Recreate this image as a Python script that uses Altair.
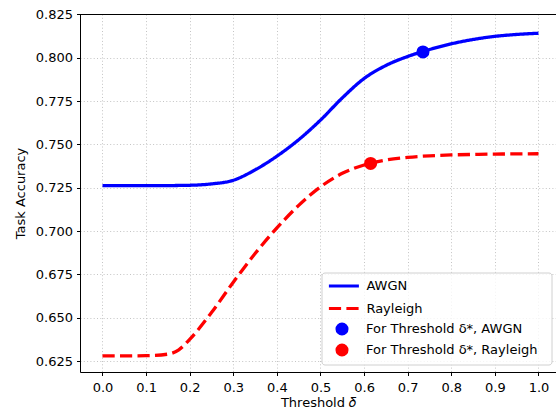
import altair as alt
import pandas as pd

# Threshold values (x) and task accuracy for each channel
thresholds = [0.0, 0.05, 0.1, 0.15, 0.175, 0.2, 0.25, 0.3, 0.35, 0.4, 0.45, 0.5,
              0.55, 0.6, 0.65, 0.7, 0.75, 0.8, 0.85, 0.9, 0.95, 1.0]
awgn_acc = [0.7262, 0.7262, 0.7262, 0.7262, 0.7263, 0.7264, 0.7272, 0.7293, 0.7353,
            0.7432, 0.7527, 0.7640, 0.7768, 0.7880, 0.7955, 0.8007, 0.8047, 0.8080,
            0.8105, 0.8123, 0.8134, 0.8141]
rayleigh_acc = [0.6280, 0.6280, 0.6281, 0.6290, 0.6315, 0.6375, 0.6530, 0.6705, 0.6870,
                0.7018, 0.7148, 0.7255, 0.7333, 0.7381, 0.7410, 0.7425, 0.7434, 0.7439,
                0.7442, 0.7444, 0.7445, 0.7446]

# Optimal threshold markers
marker_labels = ["For Threshold \u03b4*, AWGN", "For Threshold \u03b4*, Rayleigh"]
marker_x = [0.735, 0.615]
marker_y = [0.8033, 0.7390]

series_names = ["AWGN", "Rayleigh"]
series_colors = ["#0000ff", "#ff0000"]
x_ticks = [round(i * 0.1, 1) for i in range(11)]
y_ticks = [0.625, 0.65, 0.675, 0.7, 0.725, 0.75, 0.775, 0.8, 0.825]

lines_df = pd.DataFrame({
    "threshold": thresholds * 2,
    "accuracy": awgn_acc + rayleigh_acc,
    "series": ["AWGN"] * len(thresholds) + ["Rayleigh"] * len(thresholds),
})
points_df = pd.DataFrame({"threshold": marker_x, "accuracy": marker_y, "marker": marker_labels})
one_row = pd.DataFrame({"k": [0]})

W, H = 476, 358
x_scale = alt.Scale(domain=[-0.0516, 1.0402], nice=False, zero=False)
y_scale = alt.Scale(domain=[0.6187, 0.8252], nice=False, zero=False)

leg_common = dict(title=None, orient="none", padding=0, labelLimit=400,
                  labelFont="DejaVu Sans", labelFontSize=13, labelColor="black")
# wide horizontal stroke symbol (30 px) while the entry height stays small
line_legend = alt.Legend(legendX=255.4, legendY=263.5, symbolType="M-2.2,0H2.2", symbolSize=186,
                         symbolStrokeWidth=3, labelOffset=14, rowPadding=6.5, **leg_common)
point_legend = alt.Legend(legendX=255, legendY=308, symbolType="circle", symbolSize=170,
                          symbolStrokeWidth=0, labelOffset=17, rowPadding=7, **leg_common)

x_enc = alt.X("threshold:Q", scale=x_scale,
              axis=alt.Axis(values=x_ticks, format=".1f", title="Threshold \U0001D6FF"))
y_enc = alt.Y("accuracy:Q", scale=y_scale,
              axis=alt.Axis(values=y_ticks, format=".3f", title="Task Accuracy"))

lines = alt.Chart(lines_df).mark_line(strokeWidth=3.3, interpolate="monotone", strokeCap="butt").encode(
    x=x_enc, y=y_enc,
    color=alt.Color("series:N", scale=alt.Scale(domain=series_names, range=series_colors), legend=line_legend),
    strokeDash=alt.StrokeDash("series:N", scale=alt.Scale(domain=series_names, range=[[1, 0], [12.2, 5.3]]),
                              legend=line_legend),
)
points = alt.Chart(points_df).mark_circle(size=170, opacity=1).encode(
    x="threshold:Q", y="accuracy:Q",
    fill=alt.Fill("marker:N", scale=alt.Scale(domain=marker_labels, range=series_colors), legend=point_legend),
)
legend_frame = alt.Chart(one_row).mark_rect(
    fill="white", fillOpacity=0.8, stroke="#d0d0d0", strokeWidth=1, cornerRadius=3
).encode(x=alt.value(242), x2=alt.value(472), y=alt.value(259), y2=alt.value(351))
top_spine = alt.Chart(one_row).mark_rule(color="black", strokeWidth=1).encode(
    y=alt.value(0.5), x=alt.value(0), x2=alt.value(W)
)

chart = alt.layer(lines, points, legend_frame, top_spine).properties(
    width=W, height=H,
    autosize=alt.AutoSizeParams(type="none"),
    padding={"left": 80, "top": 14, "right": 0, "bottom": 39},
    background="white",
).configure_view(stroke=None).configure_axis(
    labelFont="DejaVu Sans", labelFontSize=13, labelColor="black",
    titleFont="DejaVu Sans", titleFontSize=13, titleFontWeight="normal", titleColor="black",
    domainColor="black", domainWidth=1, tickColor="black", tickWidth=1, tickSize=3.5,
    gridColor="#bdbdbd", gridWidth=0.9, gridDash=[1, 2.3],
).configure_axisX(labelPadding=6, titlePadding=2).configure_axisY(labelPadding=4, titlePadding=8)

chart.save("out.html", embed_options={"renderer": "svg", "actions": False})
